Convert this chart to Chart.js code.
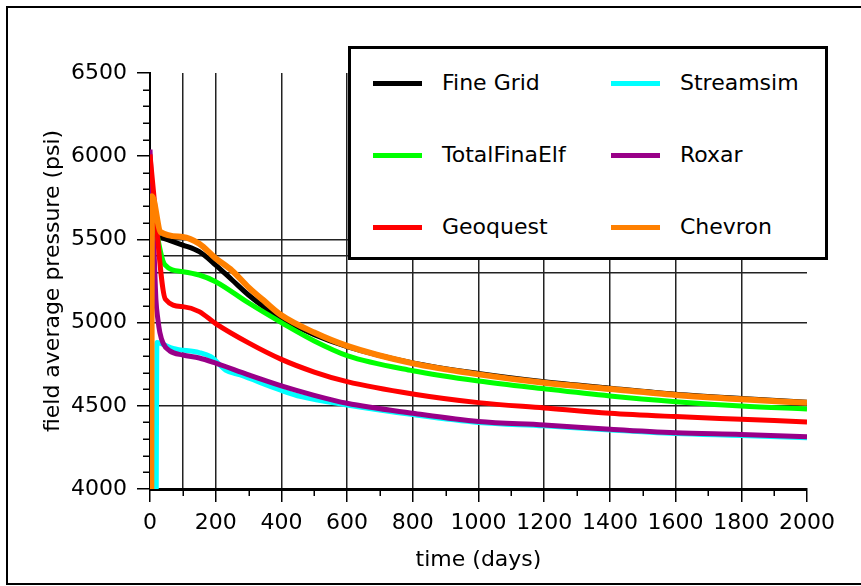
<!DOCTYPE html>
<html lang="en">
  <head>
    <meta charset="UTF-8" />
    <title>Field average pressure</title>
    <script src="https://cdn.jsdelivr.net/npm/chart.js@4.4.0/dist/chart.umd.min.js"></script>
    <style>
      body {
        margin: 0;
        background: #fff;
        font-family: 'DejaVu Sans', sans-serif;
      }

      #wrap {
        position: relative;
        width: 861px;
        height: 586px;
        overflow: hidden;
      }

      /* outer frame of the figure (no right edge visible) */
      #frame {
        position: absolute;
        left: 6px;
        top: 6px;
        width: 900px;
        height: 575px;
        border: 2px solid #000;
        border-right: none;
        pointer-events: none;
      }

      #legend {
        position: absolute;
        left: 348px;
        top: 46px;
        width: 480px;
        height: 214px;
        border: 3px solid #000;
        box-sizing: border-box;
        background: #fff;
      }

      .item {
        position: absolute;
        display: flex;
        align-items: center;
        height: 26px;
        font-size: 22px;
        line-height: 1;
        color: #000;
        white-space: nowrap;
      }

      .swatch {
        width: 49px;
        height: 5px;
        margin-right: 20px;
      }
    </style>
  </head>
  <body>
    <div id="wrap">
      <canvas id="chart" width="861" height="586"></canvas>
      <div id="legend"></div>
      <div id="frame"></div>
    </div>

    <script>
      // values (time in days, pressure in psi)
      const fineGridDays = [30, 100, 150, 200, 250, 300, 350, 400, 500, 600, 800, 1000, 1200, 1400, 1600, 1800, 2000]
      const fineGridPsi = [5515, 5466, 5426, 5346, 5256, 5166, 5090, 5024, 4928, 4856, 4758, 4694, 4644, 4606, 4570, 4544, 4522]

      const totalDays = [3, 15, 45, 100, 150, 200, 300, 400, 500, 600, 800, 1000, 1200, 1400, 1600, 1800, 2000]
      const totalPsi = [5750, 5600, 5348, 5306, 5286, 5246, 5118, 5000, 4890, 4802, 4711, 4649, 4602, 4559, 4525, 4499, 4481]

      const geoquestDays = [0, 10, 47, 100, 150, 200, 300, 400, 500, 600, 800, 1000, 1200, 1400, 1600, 1800, 2000]
      const geoquestPsi = [6010, 5800, 5140, 5096, 5066, 4994, 4878, 4779, 4703, 4645, 4571, 4519, 4487, 4455, 4435, 4419, 4403]

      const streamsimDays = [19, 21, 36, 70, 150, 185, 230, 275, 400, 460, 600, 800, 1000, 1200, 1400, 1600, 1800, 2000]
      const streamsimPsi = [4000, 4880, 4872, 4845, 4820, 4795, 4715, 4685, 4592, 4555, 4505, 4447, 4400, 4380, 4355, 4334, 4322, 4308]

      const roxarDays = [0, 5, 12, 18, 24, 30, 40, 60, 100, 150, 200, 300, 400, 500, 600, 800, 1000, 1200, 1400, 1600, 1800, 2000]
      const roxarPsi = [6040, 5800, 5450, 5140, 5020, 4940, 4875, 4830, 4805, 4787, 4756, 4686, 4620, 4563, 4515, 4455, 4405, 4385, 4359, 4338, 4328, 4314]

      const chevronDays = [4, 6, 32, 100, 150, 200, 250, 300, 350, 400, 500, 600, 800, 1000, 1200, 1400, 1600, 1800, 2000]
      const chevronPsi = [4000, 5760, 5545, 5515, 5474, 5386, 5312, 5212, 5126, 5044, 4940, 4860, 4755, 4689, 4638, 4601, 4565, 4539, 4518]

      // which ticks get a full grid line in the original
      const xGridLines = [100, 200, 400, 600, 800, 1000, 1200, 1400, 1600, 1800]
      const yGridLines = [4500, 5000, 5300, 5400, 5500]

      const toPoints = (days, psi) => days.map((d, i) => ({ x: d, y: psi[i] }))

      // legend order (column by column); "order" sets drawing order, lower is on top
      const series = [
        { label: 'Fine Grid', days: fineGridDays, psi: fineGridPsi, color: '#000000', width: 5, order: 6 },
        { label: 'TotalFinaElf', days: totalDays, psi: totalPsi, color: '#00ff00', width: 5, order: 3 },
        { label: 'Geoquest', days: geoquestDays, psi: geoquestPsi, color: '#ff0000', width: 5, order: 2 },
        { label: 'Streamsim', days: streamsimDays, psi: streamsimPsi, color: '#00ffff', width: 5, order: 5 },
        { label: 'Roxar', days: roxarDays, psi: roxarPsi, color: '#990088', width: 5, order: 4 },
        { label: 'Chevron', days: chevronDays, psi: chevronPsi, color: '#ff8000', width: 6, order: 1 }
      ]

      Chart.defaults.font.family = "'DejaVu Sans', sans-serif"
      Chart.defaults.color = '#000'

      // short ticks at the odd hundreds
      const minorTicks = {
        id: 'minorTicks',
        afterDraw(chart) {
          const { ctx, scales } = chart
          const x = scales.x
          const y = scales.y
          ctx.save()
          ctx.strokeStyle = '#000'
          ctx.lineWidth = 1.5
          ctx.beginPath()
          for (let v = 100; v < 2000; v += 200) {
            const px = Math.round(x.getPixelForValue(v)) + 0.25
            ctx.moveTo(px, x.top)
            ctx.lineTo(px, x.top + 7)
          }
          for (let v = 4100; v < 6500; v += 100) {
            if (v % 500 === 0) continue
            const py = Math.round(y.getPixelForValue(v)) + 0.25
            ctx.moveTo(y.right - 7, py)
            ctx.lineTo(y.right, py)
          }
          ctx.stroke()
          ctx.restore()
        }
      }

      const chart = new Chart(document.getElementById('chart'), {
        type: 'line',
        data: {
          datasets: series.map(s => ({
            label: s.label,
            data: toPoints(s.days, s.psi),
            borderColor: s.color,
            backgroundColor: s.color,
            borderWidth: s.width,
            order: s.order,
            pointRadius: 0,
            cubicInterpolationMode: 'monotone',
            borderJoinStyle: 'round',
            fill: false
          }))
        },
        options: {
          responsive: false,
          animation: false,
          events: [],
          layout: { padding: { top: 73, right: 54, left: 0, bottom: 0 } },
          plugins: {
            legend: { display: false },
            tooltip: { enabled: false }
          },
          scales: {
            x: {
              type: 'linear',
              min: 0,
              max: 2000,
              afterFit: scale => { scale.height = 97 },
              border: { display: true, color: '#000', width: 3 },
              grid: {
                color: c => (xGridLines.includes(c.tick.value) ? '#222' : 'transparent'),
                lineWidth: 1.5,
                drawTicks: true,
                tickLength: 13,
                tickWidth: 1.5,
                tickColor: c => (c.tick.value % 200 === 0 ? '#000' : 'transparent')
              },
              ticks: {
                stepSize: 100,
                autoSkip: false,
                maxRotation: 0,
                padding: 8,
                font: { size: 22 },
                callback: v => (v % 200 === 0 ? String(v) : '')
              },
              title: {
                display: true,
                text: 'time (days)',
                font: { size: 22 },
                padding: { top: 0, bottom: 13 }
              }
            },
            y: {
              min: 4000,
              max: 6500,
              afterFit: scale => { scale.width = 150 },
              border: { display: true, color: '#000', width: 2 },
              grid: {
                color: c => (yGridLines.includes(c.tick.value) ? '#222' : 'transparent'),
                lineWidth: 1.5,
                drawTicks: true,
                tickLength: 13,
                tickWidth: 1.5,
                tickColor: c => (c.tick.value % 500 === 0 ? '#000' : 'transparent')
              },
              ticks: {
                stepSize: 100,
                autoSkip: false,
                padding: 10,
                font: { size: 22 },
                callback: v => (v % 500 === 0 ? String(v) : '')
              },
              title: {
                display: true,
                text: 'field average pressure (psi)',
                font: { size: 22 },
                padding: { top: 40, bottom: 0 }
              }
            }
          }
        },
        plugins: [minorTicks]
      })

      // legend box: 2 columns x 3 rows, built from the datasets
      const legend = document.getElementById('legend')
      const colLeft = [22, 260]
      const rowMid = [34, 106, 178]
      chart.data.datasets.forEach((ds, i) => {
        const col = Math.floor(i / 3)
        const row = i % 3
        const item = document.createElement('div')
        item.className = 'item'
        item.style.left = colLeft[col] + 'px'
        item.style.top = rowMid[row] - 13 + 'px'
        const swatch = document.createElement('span')
        swatch.className = 'swatch'
        swatch.style.background = ds.borderColor
        const text = document.createElement('span')
        text.textContent = ds.label
        item.appendChild(swatch)
        item.appendChild(text)
        legend.appendChild(item)
      })
    </script>
  </body>
</html>
